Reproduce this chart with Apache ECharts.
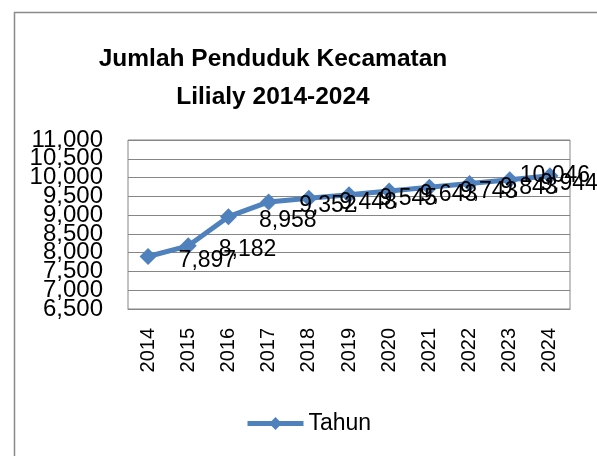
<!DOCTYPE html>
<html>
<head>
<meta charset="utf-8">
<script src="https://cdn.jsdelivr.net/npm/echarts@6/dist/echarts.min.js"></script>
<style>
html,body{margin:0;padding:0;background:#fff;}
#chart{width:597px;height:456px;}
</style>
</head>
<body>
<div id="chart"></div>
<script>
var categories = ['2014','2015','2016','2017','2018','2019','2020','2021','2022','2023','2024'];
var tahunValues = [7897, 8182, 8958, 9352, 9448, 9545, 9643, 9743, 9843, 9944, 10046];
var seriesName = 'Tahun';
var titleText = 'Jumlah Penduduk Kecamatan\nLilialy 2014-2024';
var yMin = 6500, yMax = 11000, yStep = 500;

function fmt(v){ return Number(v).toLocaleString('en-US'); }

var FONT = '"Liberation Sans", Arial, sans-serif';
var lastIdx = tahunValues.length - 1;
var seriesData = tahunValues.map(function(v, i){
  if (i === lastIdx) {
    return {value: v, label: {position: 'inside', offset: [5, 0]}};
  }
  return v;
});

var labelBase = {margin: 25, fontFamily: FONT, fontSize: 24, color: '#000', hideOverlap: false};

var chart = echarts.init(document.getElementById('chart'), null, {renderer:'canvas'});
chart.setOption({
  animation: false,
  backgroundColor: '#fff',
  graphic: [{
    type: 'rect', left: 12, top: 10, z: -1, silent: true,
    shape: {x: 0, y: 0, width: 700, height: 600},
    style: {fill: 'none', stroke: '#8a8a8a', lineWidth: 1.5}
  }],
  title: {
    text: titleText,
    left: 268, top: 35, textAlign: 'center',
    textStyle: {fontFamily: FONT, fontWeight: 'bold', fontSize: 24.5, lineHeight: 38, color: '#000'}
  },
  legend: {
    left: 240, top: 407,
    itemWidth: 56, itemHeight: 16, itemGap: 5,
    lineStyle: {width: 5},
    textStyle: {fontFamily: FONT, fontSize: 23, color: '#000'},
    data: [{name: seriesName}]
  },
  grid: {left: 128, right: 27, top: 140, bottom: 147, show: true, borderColor: '#868686', borderWidth: 1},
  xAxis: {
    type: 'category', data: categories, boundaryGap: true,
    axisLine: {show: true, lineStyle: {color: '#868686', width: 1}},
    axisTick: {show: false},
    axisLabel: {rotate: 90, margin: 19, fontFamily: FONT, fontSize: 20, color: '#000', interval: 0}
  },
  yAxis: [{
    type: 'value', min: yMin, max: yMax, interval: yStep, position: 'left',
    axisLine: {show: false}, axisTick: {show: false},
    splitLine: {show: true, lineStyle: {color: '#868686', width: 1}},
    axisLabel: Object.assign({}, labelBase, {formatter: fmt, showMinLabel: true, showMaxLabel: true})
  }, {
    type: 'value', min: yMin, max: yMax, interval: yStep, position: 'left', offset: 0,
    axisLine: {show: false}, axisTick: {show: false}, splitLine: {show: false},
    axisLabel: Object.assign({}, labelBase, {showMinLabel: false, showMaxLabel: false,
      formatter: function(v){ return (v === yMin + yStep || v === yMax - yStep) ? fmt(v) : ''; }})
  }],
  series: [{
    name: seriesName, type: 'line', data: seriesData, yAxisIndex: 0,
    symbol: 'diamond', symbolSize: 17,
    lineStyle: {color: '#4f81bd', width: 5},
    itemStyle: {color: '#4f81bd'},
    label: {show: true, position: 'right', distance: 22, offset: [0, 4],
      fontFamily: FONT, fontSize: 23, color: '#000',
      formatter: function(p){ return fmt(p.value); }}
  }]
});
</script>
</body>
</html>
